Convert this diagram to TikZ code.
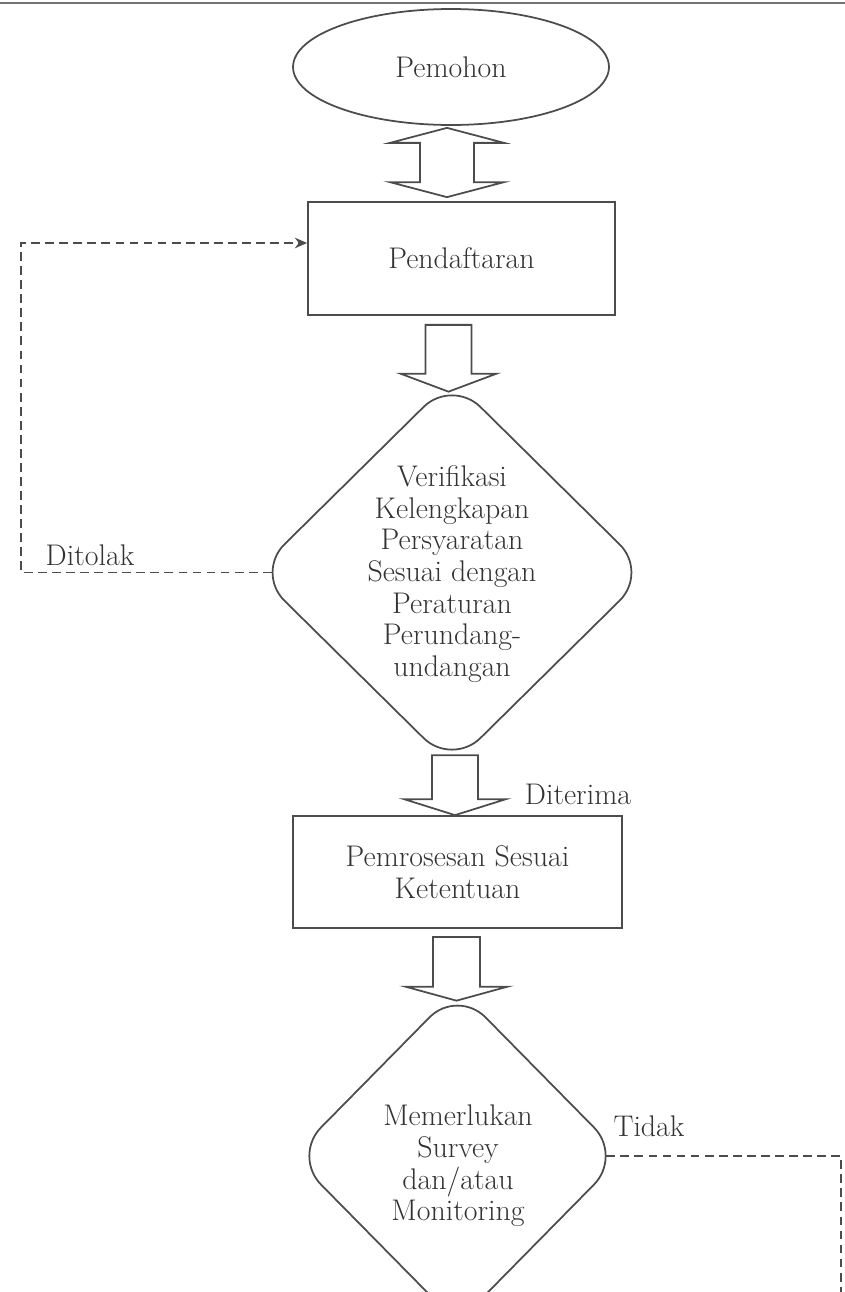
\documentclass[tikz,border=0pt]{standalone}
\usetikzlibrary{shapes.geometric,calc,arrows.meta}

\tikzset{
  garis/.style={draw=black!70, line width=1pt},
  tulis/.style={text=black!80, font=\fontsize{17}{18}\selectfont, align=center},
  awal/.style={ellipse, garis, inner sep=0pt},
  kotak/.style={rectangle, garis, inner sep=0pt},
  belah/.style={diamond, garis, rounded corners=0.8cm, inner sep=0pt},
  blok/.style={garis, line join=miter},
  putus/.style={draw=black!70, line width=1.1pt, dash pattern=on 5pt off 3pt},
}

% panah blok ke bawah: {pangkal}{ujung}{setengah batang}{setengah kepala}{panjang kepala}
\newcommand{\panahblok}[5]{%
  \draw[blok] ($(#1)+(-#3,0)$) -- ($(#2)+(-#3,-#5)$) -- ($(#2)+(-#4,-#5)$) -- (#2)
    -- ($(#2)+(#4,-#5)$) -- ($(#2)+(#3,-#5)$) -- ($(#1)+(#3,0)$) -- cycle;}

\begin{document}
\begin{tikzpicture}[x=0.02cm, y=-0.02cm]
    \useasboundingbox (0,0) rectangle (845,1292);
    \clip (0,0) rectangle (845,1292);

    \draw[black!55, line width=0.8pt] (0,3) -- (845,3);

    % bentuk
    \node[awal, tulis, minimum width=6.32cm, minimum height=2.32cm] (pemohon) at (451,67) {Pemohon};
    \node[kotak, tulis, minimum width=6.14cm, minimum height=2.26cm] (daftar) at (461.5,258.5) {Pendaftaran};
    \node[belah, minimum width=7.86cm, minimum height=7.76cm] (verif) at (452,572.5) {};
    \node[tulis] (verifteks) at (452,574) {Verifikasi\\Kelengkapan\\Persyaratan\\Sesuai dengan\\Peraturan\\Perundang-\\undangan};
    \node[kotak, tulis, minimum width=6.58cm, minimum height=2.24cm] (proses) at (457.5,872) {Pemrosesan Sesuai\\Ketentuan};
    \node[belah, minimum width=6.6cm, minimum height=6.7cm] (survei) at (457.5,1156) {};
    \node[tulis] (surveiteks) at (458,1166) {Memerlukan\\Survey\\dan/atau\\Monitoring};

    % keterangan
    \node[tulis] (ditolak) at (90,555) {Ditolak};
    \node[tulis] (diterima) at (578,794) {Diterima};
    \node[tulis] (tidak) at (649,1126) {Tidak};

    % panah dua arah
    \coordinate (g1) at ($(pemohon.south)+(-4,2)$);
    \coordinate (g2) at ($(g1 |- daftar.north)+(0,-4)$);
    \draw[blok] (g1) -- ++(57,15) -- ++(-30,0) -- ($(g2)+(27,-15)$) -- ++(30,0) -- (g2)
        -- ++(-57,-15) -- ++(30,0) -- ($(g1)+(-27,15)$) -- ++(-30,0) -- cycle;

    % panah blok
    \coordinate (p1a) at ($(daftar.south)+(-13,9)$);
    \coordinate (p1b) at ($(p1a |- verif.north)+(0,14)$);
    \panahblok{p1a}{p1b}{23}{48}{18}
    \coordinate (p2a) at ($(verif.south)+(3,-12)$);
    \coordinate (p2b) at (p2a |- proses.north);
    \panahblok{p2a}{p2b}{23}{51}{16}
    \coordinate (p3a) at ($(proses.south)+(-1,8)$);
    \coordinate (p3b) at ($(p3a |- survei.north)+(0,13)$);
    \panahblok{p3a}{p3b}{23.5}{51}{14}

    % garis putus-putus
    \coordinate (sudutkiri) at (21,243);
    \draw[putus,-{Stealth[length=7pt,width=6pt]}] ($(verif.west)+(17,0)$) -| (sudutkiri) -- (sudutkiri -| daftar.west);
    \coordinate (sudutkanan) at (841,1156);
    \draw[putus] ($(survei.east)+(-17,0)$) -- (sudutkanan) -- ++(0,150);
\end{tikzpicture}
\end{document}
